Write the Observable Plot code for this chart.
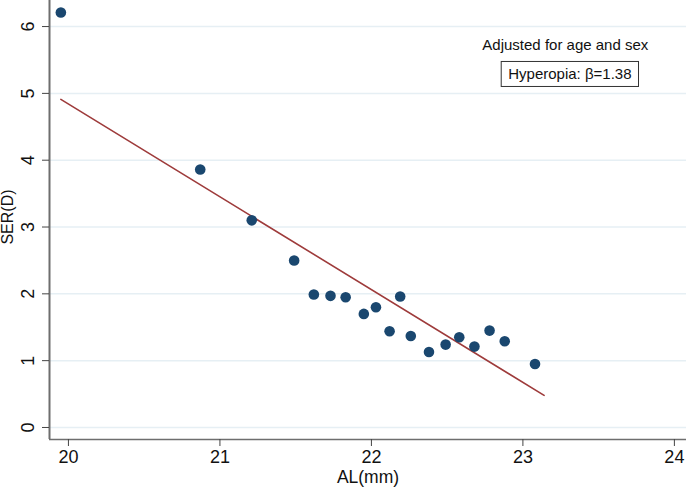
<!DOCTYPE html>
<html><head><meta charset="utf-8">
<script src="https://cdn.jsdelivr.net/npm/d3@7"></script>
<script src="https://cdn.jsdelivr.net/npm/@observablehq/plot@0.6"></script>
<style>
body{margin:0;background:#fff;}
#chart{position:relative;width:686px;height:489px;}
</style></head>
<body><div id="chart"></div>
<script>
const alValues  = [19.95, 20.87, 21.21, 21.49, 21.62, 21.73, 21.83, 21.95, 22.03, 22.19, 22.12, 22.26, 22.38, 22.49, 22.58, 22.68, 22.78, 22.88, 23.08];
const serValues = [6.21, 3.86, 3.10, 2.50, 1.99, 1.97, 1.95, 1.70, 1.80, 1.96, 1.44, 1.37, 1.13, 1.24, 1.35, 1.21, 1.45, 1.29, 0.95];
const fitAL  = [19.95, 23.14];
const fitSER = [4.91, 0.48];
const xTicks = [20, 21, 22, 23, 24];
const yTicks = [0, 1, 2, 3, 4, 5, 6];
const noteTitle = "Adjusted for age and sex";
const noteBox = "Hyperopia: \u03b2=1.38";

const pts = alValues.map((x, i) => ({x, y: serValues[i]}));
const fit = fitAL.map((x, i) => ({x, y: fitSER[i]}));
const xDomain = [19.875, 24.08];
const yDomain = [-0.18, 6.39];
const font = "Liberation Sans, Arial, sans-serif";

const chart = Plot.plot({
  width: 686, height: 489,
  marginLeft: 49, marginRight: 0, marginTop: 0, marginBottom: 50,
  style: {fontFamily: font, fontSize: "18px", background: "#fff", overflow: "visible"},
  x: {domain: xDomain},
  y: {domain: yDomain},
  marks: [
    Plot.gridY(yTicks, {stroke: "#e6eff4", strokeOpacity: 1, strokeWidth: 1.5}),
    Plot.ruleX([xDomain[0]], {stroke: "#6e6e6e", strokeWidth: 2}),
    Plot.ruleY([yDomain[0]], {stroke: "#6e6e6e", strokeWidth: 1.5}),
    Plot.axisX({ticks: xTicks, tickFormat: "d", tickSize: 7, tickPadding: 4, fontSize: 18, stroke: "#444", fill: "#111", label: null}),
    Plot.axisY({ticks: yTicks, tickSize: 7, tickFormat: () => "", stroke: "#444", label: null}),
    Plot.text(yTicks, {x: xDomain[0], y: d => d, text: d => String(d), dx: -21, rotate: -90, fontSize: 18, fill: "#111", textAnchor: "middle", lineAnchor: "middle"}),
    Plot.text([ "AL(mm)" ], {frameAnchor: "bottom", text: d => d, dy: 38, fontSize: 17.5, fill: "#111", lineAnchor: "middle"}),
    Plot.text([ "SER(D)" ], {frameAnchor: "left", text: d => d, dx: -42, dy: -3, rotate: -90, fontSize: 16, fill: "#111", lineAnchor: "middle", textAnchor: "middle"}),
    Plot.line(fit, {x: "x", y: "y", stroke: "#9e3b3b", strokeWidth: 1.6}),
    Plot.dot(pts, {x: "x", y: "y", r: 5.3, fill: "#1a476f", stroke: "none"}),
    Plot.text([noteTitle], {x: 23.28, y: 5.72, text: d => d, fontSize: 15, fill: "#111", lineAnchor: "middle"}),
    Plot.text([noteBox], {x: 23.31, y: 5.28, text: d => d, fontSize: 15, fill: "#111", lineAnchor: "middle", className: "notebox"})
  ]
});
document.getElementById("chart").appendChild(chart);
// draw a box around the boxed note text
const t = chart.querySelector(".notebox text");
if (t) {
  const b = t.getBBox();
  const ns = "http://www.w3.org/2000/svg";
  const r = document.createElementNS(ns, "rect");
  r.setAttribute("x", b.x - 7); r.setAttribute("y", b.y - 4);
  r.setAttribute("width", b.width + 14); r.setAttribute("height", b.height + 8);
  r.setAttribute("fill", "#fff"); r.setAttribute("stroke", "#333"); r.setAttribute("stroke-width", 1);
  const tr = t.getAttribute("transform");
  if (tr) r.setAttribute("transform", tr);
  t.parentNode.insertBefore(r, t);
}
</script></body></html>
